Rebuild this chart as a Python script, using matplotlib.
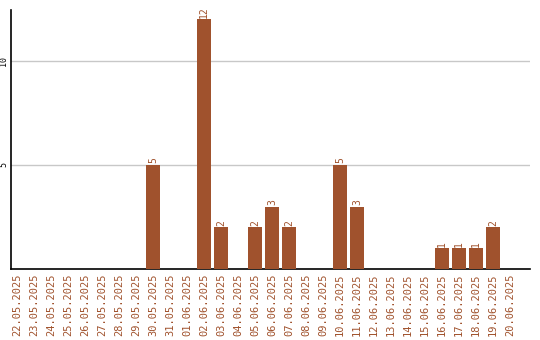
import numpy as np
import matplotlib
matplotlib.use("Agg")
import matplotlib.pyplot as plt
import pandas as pd

# daily counts, 22.05.2025 - 20.06.2025
dates = pd.date_range("2025-05-22", "2025-06-20", freq="D")
labels = [d.strftime("%d.%m.%Y") for d in dates]
counts = [0, 0, 0, 0, 0, 0, 0, 0, 5, 0, 0, 12, 2, 0, 2, 3, 2, 0, 0, 5,
          3, 0, 0, 0, 0, 1, 1, 1, 2, 0]
yticks = [5, 10]

bar_color = "#A0522D"

fig = plt.figure(figsize=(5.4, 3.4), dpi=100)
ax = fig.add_axes([11 / 540, 1 - 269 / 340, 519 / 540, 259 / 340])

x = np.arange(len(labels))
ax.bar(x, counts, width=0.82, color=bar_color, zorder=3)

# value labels above the bars
for xi, c in zip(x, counts):
    if c > 0:
        ax.text(xi, c + 0.08, str(c), rotation=90, ha="center", va="bottom",
                color=bar_color, fontsize=7, family="DejaVu Sans Mono")

ax.set_xlim(-0.35, 30.18)
ax.set_ylim(0, 12.45)
ax.set_yticks(yticks)
ax.set_yticklabels([str(t) for t in yticks], rotation=90, va="center",
                   fontsize=6, family="DejaVu Sans Mono")
ax.set_xticks(x)
ax.set_xticklabels(labels, rotation=90, fontsize=7.5, family="DejaVu Sans Mono",
                   color=bar_color)
ax.tick_params(axis="both", length=0, pad=3)
ax.tick_params(axis="y", pad=2)

ax.grid(axis="y", color="#c8c8c8", linewidth=1, zorder=0)
ax.spines["top"].set_visible(False)
ax.spines["right"].set_visible(False)
ax.spines["left"].set_linewidth(1.2)
ax.spines["bottom"].set_linewidth(1.2)

fig.savefig("out.png", dpi=100)
